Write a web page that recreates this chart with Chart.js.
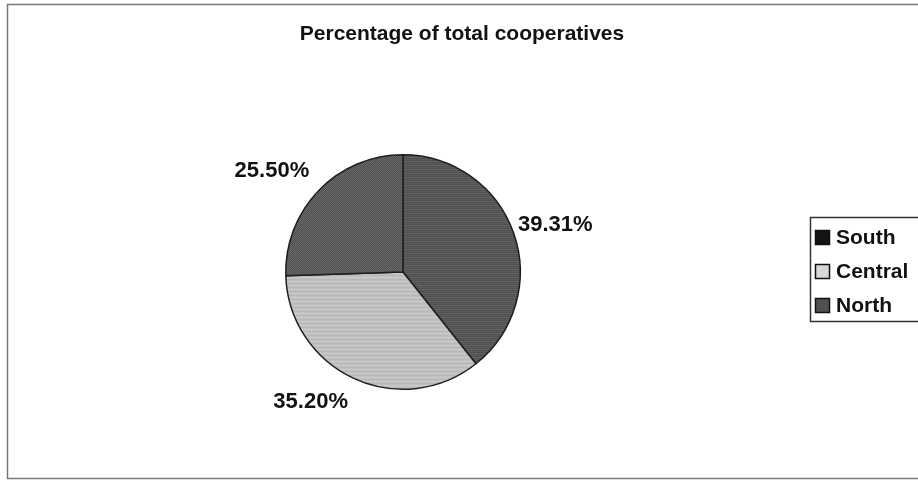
<!DOCTYPE html>
<html>
<head>
<meta charset="utf-8">
<script src="https://cdn.jsdelivr.net/npm/chart.js@4.4.1/dist/chart.umd.min.js"></script>
<style>
  html, body { margin: 0; padding: 0; background: #ffffff; }
  #wrap { width: 918px; height: 480px; position: relative; }
</style>
</head>
<body>
<div id="wrap"><canvas id="c" width="918" height="480"></canvas></div>
<script>
// ---- Data ----
const chartTitle = 'Percentage of total cooperatives';
const categories = ['South', 'Central', 'North'];
const shares = [39.31, 35.20, 25.50];
const shareLabels = ['39.31%', '35.20%', '25.50%'];

// ---- Fill patterns (imitating the scanned hatching) ----
function makePattern(w, h, painter) {
  const c = document.createElement('canvas');
  c.width = w; c.height = h;
  const g = c.getContext('2d');
  painter(g);
  return g.createPattern(c, 'repeat');
}
const southFill = makePattern(4, 4, g => {
  g.fillStyle = '#505050'; g.fillRect(0, 0, 4, 4);
  g.fillStyle = '#646464'; g.fillRect(0, 1, 4, 1);
  g.fillStyle = '#5a5a5a'; g.fillRect(0, 3, 4, 1);
});
const centralFill = makePattern(4, 4, g => {
  g.fillStyle = '#c0c0c0'; g.fillRect(0, 0, 4, 4);
  g.fillStyle = '#cacaca'; g.fillRect(0, 1, 4, 1);
  g.fillStyle = '#b9b9b9'; g.fillRect(0, 3, 4, 1);
});
const northFill = makePattern(4, 4, g => {
  g.fillStyle = '#4e4e4e'; g.fillRect(0, 0, 4, 4);
  g.fillStyle = '#6a6a6a';
  g.fillRect(0, 0, 1, 1); g.fillRect(2, 0, 1, 1);
  g.fillRect(1, 1, 1, 1); g.fillRect(3, 1, 1, 1);
  g.fillRect(0, 2, 1, 1); g.fillRect(2, 2, 1, 1);
  g.fillRect(1, 3, 1, 1); g.fillRect(3, 3, 1, 1);
});
const sliceFills = [southFill, centralFill, northFill];
const legendFills = ['#141414', '#d8d8d8', '#505050'];

const FONT = '"Liberation Sans", Arial, sans-serif';

// Frame, title and legend drawn around the chart
const framePlugin = {
  id: 'frame',
  beforeDraw(chart) {
    const ctx = chart.ctx;
    ctx.save();
    ctx.fillStyle = '#ffffff';
    ctx.fillRect(0, 0, chart.width, chart.height);
    ctx.strokeStyle = '#777777';
    ctx.lineWidth = 1.5;
    ctx.strokeRect(7.5, 4.5, 918, 474);
    ctx.restore();
  },
  afterDraw(chart) {
    const ctx = chart.ctx;
    ctx.save();
    // title
    ctx.fillStyle = '#111111';
    ctx.font = 'bold 21px ' + FONT;
    ctx.textAlign = 'center';
    ctx.textBaseline = 'middle';
    ctx.fillText(chartTitle, 462, 34);
    // legend box
    ctx.strokeStyle = '#333333';
    ctx.lineWidth = 1.5;
    ctx.strokeRect(810.5, 217.5, 112, 104);
    const rowsY = [237, 271, 305];
    categories.forEach((name, i) => {
      const y = rowsY[i];
      ctx.fillStyle = legendFills[i];
      ctx.fillRect(815, y - 7, 15, 15);
      ctx.strokeStyle = '#111111';
      ctx.lineWidth = 1.5;
      ctx.strokeRect(815.5, y - 6.5, 14, 14);
      ctx.fillStyle = '#111111';
      ctx.font = 'bold 21px ' + FONT;
      ctx.textAlign = 'left';
      ctx.textBaseline = 'middle';
      ctx.fillText(name, 836, y + 1);
    });
    ctx.restore();
  }
};

// Percentage labels placed outside each slice
const outsideLabels = {
  id: 'outsideLabels',
  afterDatasetsDraw(chart, args, opts) {
    const ctx = chart.ctx;
    const meta = chart.getDatasetMeta(0);
    const nudge = opts.nudge || [];
    ctx.save();
    ctx.fillStyle = '#111111';
    ctx.font = 'bold 22px ' + FONT;
    ctx.textAlign = 'center';
    ctx.textBaseline = 'middle';
    meta.data.forEach((arc, i) => {
      const p = arc.getProps(['x', 'y', 'startAngle', 'endAngle', 'outerRadius'], true);
      const mid = (p.startAngle + p.endAngle) / 2;
      const d = p.outerRadius + opts.gap;
      const n = nudge[i] || [0, 0];
      ctx.fillText(shareLabels[i], p.x + Math.cos(mid) * d + n[0], p.y + Math.sin(mid) * d + n[1]);
    });
    ctx.restore();
  }
};

new Chart(document.getElementById('c'), {
  type: 'pie',
  data: {
    labels: categories,
    datasets: [{
      data: shares,
      backgroundColor: sliceFills,
      borderColor: '#1e1e1e',
      borderWidth: 1.5
    }]
  },
  options: {
    responsive: false,
    animation: false,
    layout: { padding: { left: 285, right: 397, top: 154, bottom: 90 } },
    plugins: {
      legend: { display: false },
      title: { display: false },
      tooltip: { enabled: false },
      outsideLabels: { gap: 43, nudge: [[1, 6], [-25, -15], [-16, 10]] }
    }
  },
  plugins: [framePlugin, outsideLabels]
});
</script>
</body>
</html>
